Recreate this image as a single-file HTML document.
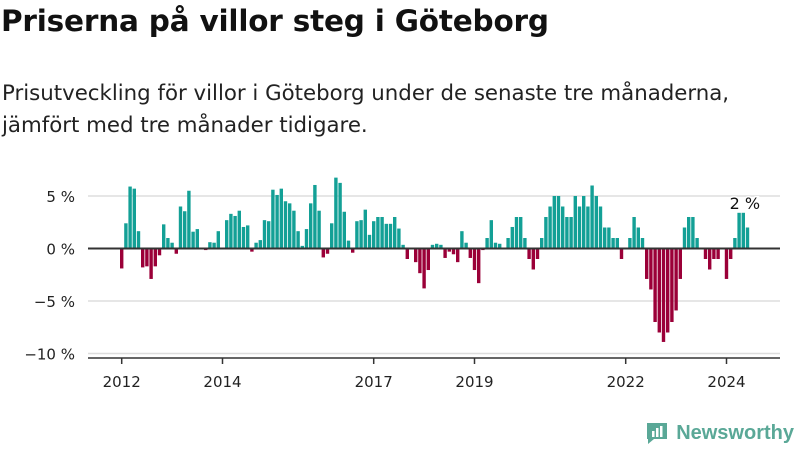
<!DOCTYPE html>
<html><head><meta charset="utf-8">
<style>
body{margin:0;width:800px;height:450px;background:#fff;font-family:"DejaVu Sans","Liberation Sans",sans-serif;overflow:hidden;position:relative}
h1{position:absolute;left:1px;top:4px;margin:0;font-size:29.5px;font-weight:bold;color:#111;letter-spacing:-0.2px}
p{position:absolute;left:2px;top:78px;margin:0;font-size:21.3px;line-height:32px;color:#222}
svg{position:absolute;left:0;top:0}
</style></head><body>
<h1>Priserna på villor steg i Göteborg</h1>
<p>Prisutveckling för villor i Göteborg under de senaste tre månaderna,<br>jämfört med tre månader tidigare.</p>
<svg id="chart" width="800" height="450"></svg>
<script>
const values = [
-1.9,2.4,5.9,5.7,1.65,-1.8,-1.7,-2.9,-1.7,-0.65,2.3,1.0,
0.55,-0.5,4.0,3.55,5.5,1.6,1.85,0,-0.15,0.6,0.55,1.65,
0,2.7,3.3,3.1,3.6,2.05,2.2,-0.3,0.55,0.8,2.7,2.6,
5.6,5.1,5.7,4.5,4.3,3.6,1.65,0.25,1.85,4.3,6.05,3.6,
-0.85,-0.5,2.4,6.75,6.25,3.5,0.75,-0.4,2.6,2.7,3.7,1.3,
2.6,3.0,3.0,2.35,2.35,3.0,1.9,0.35,-1.0,0,-1.3,-2.35,
-3.8,-2.05,0.35,0.45,0.35,-0.9,-0.3,-0.55,-1.3,1.65,0.55,-0.9,
-2.05,-3.3,-0.15,1.0,2.7,0.55,0.45,0,1.0,2.05,3.0,3.0,
1.0,-1.0,-2.0,-1.0,1.0,3.0,4.0,5.0,5.0,4.0,3.0,3.0,
5.0,4.0,5.0,4.0,6.0,5.0,4.0,2.0,2.0,1.0,1.0,-1.0,
0,1.0,3.0,2.0,1.0,-2.9,-3.9,-7.0,-8.0,-8.9,-8.0,-7.0,
-5.9,-2.9,2.0,3.0,3.0,1.0,0,-1.0,-2.0,-1.0,-1.0,0,
-2.9,-1.0,1.0,3.4,3.4,2.0
];
const startYear = 2012;
const yTicks = [5,0,-5,-10];
const yTickLabels = ["5 %","0 %","−5 %","−10 %"];
const xTickYears = [2012,2014,2017,2019,2022,2024];
const lastLabel = "2 %";

const NS="http://www.w3.org/2000/svg";
const svg=document.getElementById('chart');
const y0=248.5, pxPer=10.5;
function y(v){return y0 - v*pxPer;}
function x(i){return 120 + i*4.2;}
function mk(tag,attrs){const e=document.createElementNS(NS,tag);for(const k in attrs)e.setAttribute(k,attrs[k]);svg.appendChild(e);return e;}

yTicks.forEach((t,k)=>{
  if(t!==0){
    const g=mk('line',{x1:88,x2:780,y1:y(t),y2:y(t),stroke:'#dddddd','stroke-width':1.5});
    
    
  }
  const tx=mk('text',{x:75,y:y(t)+6,'text-anchor':'end','font-size':15,fill:'#222'});
  tx.textContent=yTickLabels[k];
  
  
});
values.forEach((v,i)=>{
  const r=mk('rect',{x:x(i),width:3.4,y:v>=0?y(v):y0,height:Math.abs(v)*pxPer,fill:v>=0?'#13a096':'#9b0038'});
  
  
});
const z=mk('line',{x1:88,x2:780,y1:y0,y2:y0,stroke:'#333','stroke-width':2});


const ax=mk('line',{x1:88,x2:780,y1:358,y2:358,stroke:'#333','stroke-width':1.5});


xTickYears.forEach(yr=>{
  const cx=x((yr-startYear)*12)+1.7;
  const tk=mk('line',{x1:cx,x2:cx,y1:358,y2:364,stroke:'#333','stroke-width':1.5});
  
  
  const t=mk('text',{x:cx,y:387,'text-anchor':'middle','font-size':15,fill:'#222'});
  t.textContent=yr;
  
  
});
const li=values.length-1;
const lbl=mk('text',{x:x(li)-1,y:y(Math.max(values[li],values[li-1]))-4,'text-anchor':'middle','font-size':16,fill:'#111',stroke:'#fff','stroke-width':3,'paint-order':'stroke'});
lbl.textContent=lastLabel;


</script>
<div style="position:absolute;right:6px;top:420px;display:flex;align-items:center">
<svg width="26" height="26" style="position:static"><path d="M3 3h20v16H10l-6 5v-5H3z" fill="#5aa897"/><rect x="8" y="11" width="2.5" height="6" fill="#fff"/><rect x="12" y="8" width="2.5" height="9" fill="#fff"/><rect x="16" y="6" width="2.5" height="11" fill="#fff"/></svg>
<span style="font-family:'Liberation Sans',sans-serif;font-size:20px;font-weight:bold;color:#5aa897;margin-left:6px">Newsworthy</span>
</div>
</body></html>
